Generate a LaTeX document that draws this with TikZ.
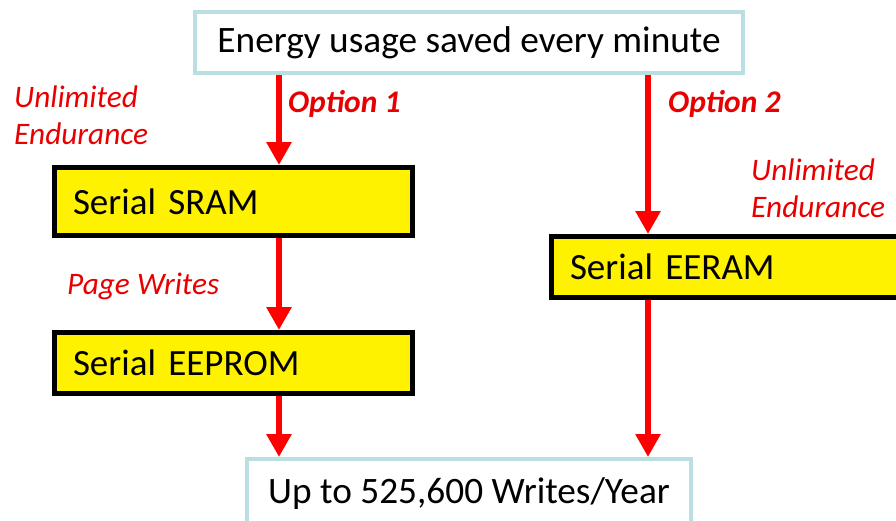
\documentclass[tikz,border=0pt]{standalone}
\usepackage{fontspec}
\setmainfont{Carlito}
\usetikzlibrary{arrows.meta}

\definecolor{edgeblue}{RGB}{186,223,227}
\definecolor{notered}{RGB}{232,0,0}

\tikzset{
  plainbox/.style={draw=edgeblue, line width=4pt, fill=white, inner sep=0pt,
    font=\fontsize{37.3}{40}\selectfont},
  memorybox/.style={draw=black, line width=5pt, fill=yellow, inner xsep=18.5pt,
    inner ysep=0pt, text width=#1, align=left, font=\fontsize{37}{40}\selectfont},
  note/.style={text=notered, anchor=west, inner sep=0pt, align=left,
    font=\fontsize{31.3}{37}\selectfont\itshape},
  flow/.style={draw=red, line width=6pt, -{Triangle[width=24pt,length=23pt]}}
}

\begin{document}
\begin{tikzpicture}[x=1pt, y=-1pt]
  \useasboundingbox (0,0) rectangle (896,520);
  \clip (0,0) rectangle (896,520);

  \coordinate (leftlane) at (279,0);
  \coordinate (rightlane) at (648,0);

  \node[plainbox, minimum width=548pt, minimum height=61pt] (usage) at (469,42.5) {Energy usage saved every minute};
  \node[memorybox=321pt, minimum height=68pt] (sram) at (233.5,201.5) {Serial SRAM};
  \node[memorybox=321pt, minimum height=61pt] (eeprom) at (233.5,363) {Serial EEPROM};
  \node[memorybox=360pt, minimum height=61pt] (eeram) at (750,267) {Serial EERAM};
  \node[plainbox, minimum width=444pt, minimum height=70pt] (writes) at (469,494) {Up to 525,600 Writes/Year};

  \node[note] (endurleft) at (14,115) {Unlimited\\Endurance};
  \node[note, font=\fontsize{31.5}{37}\selectfont\bfseries\itshape] (opt1) at (288,104) {Option 1};
  \node[note, font=\fontsize{31.5}{37}\selectfont\bfseries\itshape] (opt2) at (668,104) {Option 2};
  \node[note] (endurright) at (751,188) {Unlimited\\Endurance};
  \node[note] (pagew) at (67,286) {Page Writes};

  \draw[flow] (usage.south -| leftlane) -- (sram.north -| leftlane);
  \draw[flow] (sram.south -| leftlane) -- (eeprom.north -| leftlane);
  \draw[flow] (eeprom.south -| leftlane) -- (writes.north -| leftlane);
  \draw[flow] (usage.south -| rightlane) -- (eeram.north -| rightlane);
  \draw[flow] (eeram.south -| rightlane) -- (writes.north -| rightlane);
\end{tikzpicture}
\end{document}
